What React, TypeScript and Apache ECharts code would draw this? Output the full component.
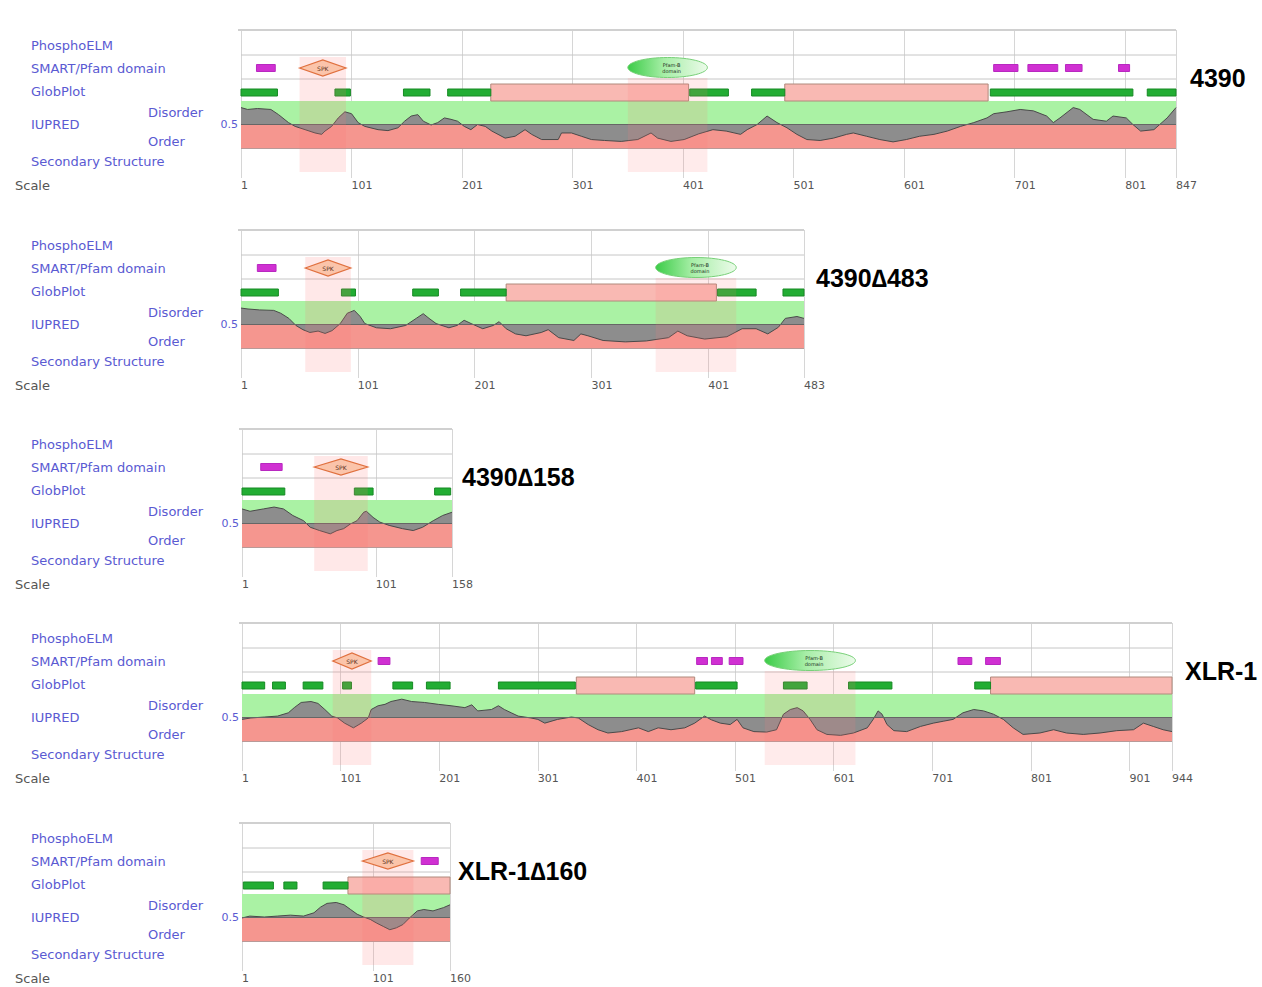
import React, { useEffect, useRef } from 'react';
import * as echarts from 'echarts';

// ---------- data (residue positions and IUPred scores) ----------
const TITLES = ['4390', '4390\u2206483', '4390\u2206158', 'XLR-1', 'XLR-1\u2206160'];
const LENGTHS = [847, 483, 158, 944, 160];
const TRACK_LABELS = ['PhosphoELM', 'SMART/Pfam domain', 'GlobPlot', 'IUPRED', 'Secondary Structure'];
const SMART_NAME = 'SPK';
const PFAM_NAME = ['Pfam-B', 'domain'];

const phospho1 = [[15, 32], [682, 704], [713, 740], [747, 762], [795, 805]];
const smart1 = [[54, 96]];
const pfam1 = [[351, 423]];
const globOrder1 = [[1, 34], [86, 100], [148, 172], [188, 227], [407, 442], [463, 493], [679, 808], [821, 847]];
const globDis1 = [[227, 406], [493, 677]];
const iupred1 = [
  [1, 0.86], [7, 0.82], [16, 0.84], [28, 0.82], [35, 0.71], [44, 0.54], [50, 0.46], [59, 0.39], [68, 0.32], [74, 0.29],
  [77, 0.36], [83, 0.46], [89, 0.64], [95, 0.77], [101, 0.73], [107, 0.54], [113, 0.46], [125, 0.39], [134, 0.37], [143, 0.43],
  [149, 0.57], [155, 0.68], [161, 0.71], [166, 0.57], [173, 0.49], [179, 0.54], [185, 0.64], [191, 0.61], [197, 0.57], [203, 0.46],
  [209, 0.39], [215, 0.5], [222, 0.46], [228, 0.36], [240, 0.21], [249, 0.25], [258, 0.39], [264, 0.29], [273, 0.18], [288, 0.18],
  [291, 0.32], [300, 0.32], [309, 0.25], [318, 0.18], [330, 0.16], [345, 0.14], [360, 0.18], [372, 0.32], [378, 0.21], [390, 0.14],
  [402, 0.18], [415, 0.3], [428, 0.39], [440, 0.36], [453, 0.29], [459, 0.39], [468, 0.5], [477, 0.68], [486, 0.54], [495, 0.43],
  [504, 0.29], [513, 0.18], [525, 0.16], [537, 0.21], [549, 0.29], [555, 0.32], [567, 0.25], [579, 0.18], [591, 0.13], [603, 0.18],
  [615, 0.25], [628, 0.29], [640, 0.36], [652, 0.46], [664, 0.54], [676, 0.64], [682, 0.73], [694, 0.77], [706, 0.82], [718, 0.79],
  [730, 0.68], [736, 0.54], [742, 0.64], [754, 0.86], [760, 0.82], [772, 0.61], [784, 0.57], [790, 0.68], [802, 0.64], [808, 0.5],
  [815, 0.36], [827, 0.39], [839, 0.64], [847, 0.86],
];

const phospho2 = [[15, 31]];
const smart2 = [[56, 95]];
const pfam2 = [[356, 425]];
const globOrder2 = [[1, 33], [87, 99], [148, 170], [189, 228], [409, 442], [465, 483]];
const globDis2 = [[228, 408]];
const iupred2 = [
  [1, 0.85], [7, 0.83], [17, 0.81], [29, 0.8], [35, 0.74], [42, 0.63], [48, 0.48], [54, 0.39], [60, 0.33], [67, 0.36],
  [73, 0.31], [79, 0.37], [86, 0.52], [92, 0.74], [98, 0.8], [103, 0.67], [107, 0.52], [117, 0.43], [129, 0.41], [142, 0.48],
  [151, 0.63], [157, 0.73], [162, 0.63], [168, 0.52], [179, 0.43], [186, 0.48], [192, 0.59], [198, 0.52], [208, 0.41], [217, 0.48],
  [222, 0.56], [228, 0.41], [236, 0.3], [245, 0.26], [258, 0.33], [264, 0.39], [273, 0.22], [286, 0.16], [292, 0.3], [298, 0.26],
  [311, 0.16], [330, 0.13], [348, 0.15], [367, 0.22], [375, 0.36], [383, 0.26], [398, 0.19], [417, 0.24], [430, 0.41], [442, 0.41],
  [452, 0.3], [461, 0.44], [467, 0.63], [477, 0.67], [483, 0.63],
];

const phospho3 = [[15, 31]];
const smart3 = [[55, 95]];
const pfam3: number[][] = [];
const globOrder3 = [[1, 33], [85, 99], [145, 157]];
const globDis3: number[][] = [];
const iupred3 = [
  [1, 0.81], [7, 0.76], [17, 0.81], [25, 0.85], [32, 0.81], [39, 0.67], [47, 0.56], [52, 0.42], [59, 0.35], [67, 0.28],
  [72, 0.35], [77, 0.39], [82, 0.49], [87, 0.56], [92, 0.74], [94, 0.76], [99, 0.63], [104, 0.53], [111, 0.46], [121, 0.39],
  [129, 0.35], [136, 0.42], [144, 0.56], [151, 0.67], [158, 0.74],
];

const phospho4 = [[139, 151], [462, 473], [477, 488], [495, 509], [727, 741], [755, 770]];
const smart4 = [[93, 132]];
const pfam4 = [[531, 623]];
const globOrder4 = [[1, 24], [32, 45], [63, 83], [103, 112], [154, 174], [188, 212], [261, 339], [461, 503], [550, 574], [616, 660], [744, 760]];
const globDis4 = [[340, 460], [760, 944]];
const iupred4 = [
  [1, 0.46], [10, 0.49], [24, 0.51], [37, 0.53], [48, 0.6], [54, 0.71], [61, 0.82], [71, 0.84], [78, 0.8], [85, 0.67],
  [92, 0.53], [98, 0.49], [105, 0.38], [114, 0.28], [122, 0.38], [129, 0.49], [132, 0.67], [139, 0.75], [146, 0.78], [152, 0.84],
  [163, 0.89], [173, 0.84], [186, 0.82], [200, 0.78], [213, 0.75], [227, 0.71], [234, 0.77], [240, 0.64], [254, 0.67], [261, 0.75],
  [267, 0.67], [274, 0.6], [281, 0.53], [294, 0.49], [301, 0.46], [308, 0.38], [321, 0.46], [335, 0.51], [342, 0.49], [352, 0.35],
  [362, 0.24], [372, 0.17], [386, 0.2], [403, 0.28], [413, 0.2], [423, 0.28], [436, 0.24], [450, 0.28], [460, 0.38], [470, 0.53],
  [477, 0.45], [486, 0.38], [496, 0.35], [503, 0.46], [509, 0.28], [520, 0.2], [533, 0.19], [543, 0.24], [550, 0.57], [557, 0.67],
  [564, 0.71], [570, 0.64], [577, 0.46], [584, 0.24], [594, 0.14], [608, 0.12], [621, 0.17], [635, 0.28], [641, 0.46], [646, 0.64],
  [650, 0.57], [655, 0.35], [662, 0.22], [675, 0.2], [689, 0.31], [702, 0.38], [712, 0.42], [722, 0.46], [732, 0.6], [743, 0.67],
  [753, 0.64], [763, 0.57], [773, 0.46], [783, 0.28], [793, 0.14], [810, 0.17], [824, 0.24], [837, 0.17], [854, 0.14], [871, 0.17],
  [888, 0.22], [905, 0.24], [915, 0.38], [925, 0.31], [935, 0.24], [944, 0.2],
];

const phospho5 = [[138, 151]];
const smart5 = [[93, 132]];
const pfam5: number[][] = [];
const globOrder5 = [[2, 25], [33, 43], [63, 82]];
const globDis5 = [[82, 160]];
const iupred5 = [
  [1, 0.49], [7, 0.53], [18, 0.51], [28, 0.53], [38, 0.55], [48, 0.53], [56, 0.6], [61, 0.72], [66, 0.8], [73, 0.82],
  [79, 0.77], [84, 0.67], [89, 0.57], [94, 0.51], [99, 0.46], [104, 0.38], [109, 0.31], [114, 0.24], [119, 0.28], [124, 0.35],
  [129, 0.49], [135, 0.64], [140, 0.67], [147, 0.64], [155, 0.71], [160, 0.77],
];

const PHOSPHO = [phospho1, phospho2, phospho3, phospho4, phospho5];
const SMART = [smart1, smart2, smart3, smart4, smart5];
const PFAM = [pfam1, pfam2, pfam3, pfam4, pfam5];
const GLOB_ORDER = [globOrder1, globOrder2, globOrder3, globOrder4, globOrder5];
const GLOB_DIS = [globDis1, globDis2, globDis3, globDis4, globDis5];
const IUPRED = [iupred1, iupred2, iupred3, iupred4, iupred5];

// ---------- layout ----------
const LAYOUT = [
  { off: 0, left: 241, right: 1176, titleX: 1190 },
  { off: 200, left: 241, right: 804, titleX: 816 },
  { off: 399, left: 242, right: 452, titleX: 462 },
  { off: 593, left: 242, right: 1172, titleX: 1185 },
  { off: 793, left: 242, right: 450, titleX: 458 },
];
const FONT = '"DejaVu Sans", Verdana, sans-serif';
const BLUE = '#5a5ad2';

function buildOption() {
  const grid: any[] = [];
  const xAxis: any[] = [];
  const yAxis: any[] = [];
  const series: any[] = [];
  const graphic: any[] = [];

  LAYOUT.forEach((L, i) => {
    const N = LENGTHS[i];
    const w = L.right - L.left;
    const gA = 2 * i;
    const gB = 2 * i + 1;
    grid.push({ left: L.left, top: L.off + 30, width: w, height: 148 });
    grid.push({ left: L.left, top: L.off + 101, width: w, height: 47 });
    xAxis.push({
      gridIndex: gA, type: 'value', min: 1, max: N, interval: 100,
      axisLine: { show: false }, axisTick: { show: false },
      splitLine: { show: true, lineStyle: { color: '#d6d6d6', width: 1 } },
      axisLabel: { align: 'left', color: '#555', fontSize: 11, fontFamily: FONT, margin: 2, showMinLabel: true, showMaxLabel: true },
    });
    yAxis.push({ gridIndex: gA, type: 'value', min: 0, max: 1, show: false });
    xAxis.push({ gridIndex: gB, type: 'value', min: 1, max: N, show: false });
    yAxis.push({
      gridIndex: gB, type: 'value', min: 0, max: 1, interval: 0.5,
      axisLine: { show: false }, axisTick: { show: false }, splitLine: { show: false },
      axisLabel: { formatter: (v: number) => (v === 0.5 ? '0.5' : ''), color: BLUE, fontSize: 11, fontFamily: FONT, margin: 3 },
    });

    // frame lines
    series.push({
      type: 'custom', xAxisIndex: gA, yAxisIndex: gA, z: 1, silent: true,
      data: [[1, 0]], encode: { x: 0, y: 1 },
      renderItem: (params: any) => {
        const cs = params.coordSys;
        return {
          type: 'group',
          children: [
            { type: 'line', shape: { x1: cs.x - 3, y1: cs.y, x2: cs.x + cs.width, y2: cs.y }, style: { stroke: '#d0d0d0', lineWidth: 2 } },
            { type: 'line', shape: { x1: cs.x, y1: cs.y + 25, x2: cs.x + cs.width, y2: cs.y + 25 }, style: { stroke: '#c6c6c6', lineWidth: 1 } },
            { type: 'line', shape: { x1: cs.x, y1: cs.y + 49, x2: cs.x + cs.width, y2: cs.y + 49 }, style: { stroke: '#c6c6c6', lineWidth: 1 } },
          ],
        };
      },
    });

    // IUPred
    series.push({
      type: 'line', xAxisIndex: gB, yAxisIndex: gB, z: 2, silent: true,
      data: IUPRED[i], showSymbol: false, symbol: 'none',
      lineStyle: { color: '#4a4a4a', width: 1 },
      areaStyle: { color: '#8d8d8d', opacity: 1, origin: 0.5 },
      markArea: {
        silent: true,
        data: [
          [{ yAxis: 0.5, itemStyle: { color: '#aaf2a4' } }, { yAxis: 1 }],
          [{ yAxis: 0, itemStyle: { color: '#f5968f' } }, { yAxis: 0.5 }],
        ],
      },
      markLine: {
        silent: true, symbol: 'none', label: { show: false },
        data: [
          { yAxis: 0.5, lineStyle: { color: '#666', width: 1, type: 'solid' } },
          { yAxis: 0, lineStyle: { color: '#b89a98', width: 1, type: 'solid' } },
        ],
      },
    });

    const xr = (api: any, idx: number) => api.coord([api.value(idx), 0])[0];

    // GlobPlot disorder (pink)
    series.push({
      type: 'custom', xAxisIndex: gA, yAxisIndex: gA, z: 3, silent: true,
      data: GLOB_DIS[i], encode: { x: [0, 1] },
      renderItem: (params: any, api: any) => {
        const cs = params.coordSys;
        const x1 = xr(api, 0), x2 = xr(api, 1);
        return { type: 'rect', shape: { x: x1, y: cs.y + 54, width: x2 - x1, height: 17 }, style: { fill: '#f9b9b3', stroke: '#b08a7c', lineWidth: 1 } };
      },
    });
    // GlobPlot order (green)
    series.push({
      type: 'custom', xAxisIndex: gA, yAxisIndex: gA, z: 4, silent: true,
      data: GLOB_ORDER[i], encode: { x: [0, 1] },
      renderItem: (params: any, api: any) => {
        const cs = params.coordSys;
        const x1 = xr(api, 0), x2 = xr(api, 1);
        return { type: 'rect', shape: { x: x1, y: cs.y + 59, width: x2 - x1, height: 7 }, style: { fill: '#22ad33', stroke: '#178a25', lineWidth: 1 } };
      },
    });
    // PhosphoELM
    series.push({
      type: 'custom', xAxisIndex: gA, yAxisIndex: gA, z: 5, silent: true,
      data: PHOSPHO[i], encode: { x: [0, 1] },
      renderItem: (params: any, api: any) => {
        const cs = params.coordSys;
        const x1 = xr(api, 0), x2 = xr(api, 1);
        return { type: 'rect', shape: { x: x1, y: cs.y + 34.5, width: x2 - x1, height: 7 }, style: { fill: '#d030d2', stroke: '#b828c0', lineWidth: 1 } };
      },
    });
    // SMART domain (diamond) + highlight
    series.push({
      type: 'custom', xAxisIndex: gA, yAxisIndex: gA, z: 6, silent: true,
      data: SMART[i], encode: { x: [0, 1] },
      renderItem: (params: any, api: any) => {
        const cs = params.coordSys;
        const x1 = xr(api, 0), x2 = xr(api, 1);
        const cy = cs.y + 38;
        const xm = (x1 + x2) / 2;
        return {
          type: 'group',
          children: [
            { type: 'rect', shape: { x: x1, y: cs.y + 27, width: x2 - x1, height: 115 }, style: { fill: 'rgba(255,120,120,0.17)' } },
            { type: 'polygon', shape: { points: [[x1, cy], [xm, cy - 8], [x2, cy], [xm, cy + 8]] }, style: { fill: '#fbc4aa', stroke: '#e0703e', lineWidth: 1.2 } },
            { type: 'text', style: { text: SMART_NAME, x: xm, y: cy, fill: '#5a3020', fontSize: 6, fontFamily: FONT, align: 'center', verticalAlign: 'middle' } },
          ],
        };
      },
    });
    // Pfam domain (ellipse) + highlight
    series.push({
      type: 'custom', xAxisIndex: gA, yAxisIndex: gA, z: 6, silent: true,
      data: PFAM[i], encode: { x: [0, 1] },
      renderItem: (params: any, api: any) => {
        const cs = params.coordSys;
        const x1 = xr(api, 0), x2 = xr(api, 1);
        const cy = cs.y + 37.5;
        const xm = (x1 + x2) / 2;
        return {
          type: 'group',
          children: [
            { type: 'rect', shape: { x: x1, y: cs.y + 48, width: x2 - x1, height: 94 }, style: { fill: 'rgba(255,120,120,0.15)' } },
            {
              type: 'ellipse', shape: { cx: xm, cy, rx: (x2 - x1) / 2, ry: 10 },
              style: {
                fill: new echarts.graphic.LinearGradient(0, 0, 1, 0, [
                  { offset: 0, color: '#3ccc48' }, { offset: 0.45, color: '#a6eea6' }, { offset: 1, color: '#ecfbea' },
                ]),
                stroke: '#78d078', lineWidth: 1,
              },
            },
            { type: 'text', style: { text: PFAM_NAME.join('\n'), x: xm + 4, y: cy, fill: '#203020', fontSize: 5, lineHeight: 6, fontFamily: FONT, align: 'center', verticalAlign: 'middle' } },
          ],
        };
      },
    });

    // left labels
    const ys = [45, 68, 91, 124, 161];
    TRACK_LABELS.forEach((t, k) => {
      graphic.push({ type: 'text', x: 31, y: L.off + ys[k], style: { text: t, fill: BLUE, fontSize: 13, fontFamily: FONT, verticalAlign: 'middle' } });
    });
    graphic.push({ type: 'text', x: 148, y: L.off + 112, style: { text: 'Disorder', fill: BLUE, fontSize: 13, fontFamily: FONT, verticalAlign: 'middle' } });
    graphic.push({ type: 'text', x: 148, y: L.off + 141, style: { text: 'Order', fill: BLUE, fontSize: 13, fontFamily: FONT, verticalAlign: 'middle' } });
    graphic.push({ type: 'text', x: 15, y: L.off + 185, style: { text: 'Scale', fill: '#555', fontSize: 13, fontFamily: FONT, verticalAlign: 'middle' } });
    // right title
    graphic.push({
      type: 'text', x: L.titleX, y: L.off + 78,
      style: { text: TITLES[i], fill: '#000', fontSize: 25, fontWeight: 'bold', fontFamily: '"Liberation Sans", Arial, sans-serif', verticalAlign: 'middle' },
    });
  });

  return { animation: false, backgroundColor: '#fff', grid, xAxis, yAxis, series, graphic };
}

export default function App() {
  const ref = useRef<HTMLDivElement>(null);
  useEffect(() => {
    const chart = echarts.init(ref.current as HTMLDivElement, null, { renderer: 'svg' });
    chart.setOption(buildOption() as any);
    return () => chart.dispose();
  }, []);
  return <div ref={ref} style={{ position: 'absolute', left: 0, top: 0, width: 1262, height: 987, background: '#fff' }} />;
}
